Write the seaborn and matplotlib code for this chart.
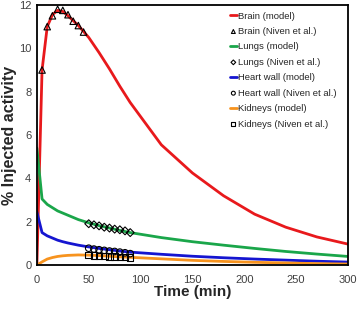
import numpy as np
import pandas as pd
import seaborn as sns
import matplotlib.pyplot as plt

# model time grid (min)
t_model = [0, 5, 10, 15, 20, 25, 30, 40, 50, 60, 70, 80, 90, 120, 150, 180, 210, 240, 270, 300]
brain_model = [0.0, 9.0, 11.0, 11.55, 11.75, 11.7, 11.5, 11.05, 10.5, 9.8, 9.05, 8.25, 7.5, 5.55, 4.25, 3.2, 2.35, 1.75, 1.3, 0.97]
lungs_model = [5.4, 3.05, 2.8, 2.65, 2.5, 2.4, 2.3, 2.1, 1.95, 1.82, 1.71, 1.6, 1.5, 1.27, 1.08, 0.92, 0.77, 0.63, 0.51, 0.4]
heart_model = [2.45, 1.5, 1.35, 1.25, 1.15, 1.08, 1.02, 0.92, 0.84, 0.77, 0.71, 0.65, 0.6, 0.5, 0.41, 0.34, 0.28, 0.23, 0.18, 0.14]
kidney_model = [0.0, 0.15, 0.28, 0.35, 0.4, 0.43, 0.45, 0.47, 0.46, 0.44, 0.41, 0.38, 0.36, 0.29, 0.22, 0.17, 0.13, 0.1, 0.07, 0.05]

# measured data (Niven et al.)
t_brain = [5, 10, 15, 20, 25, 30, 35, 40, 45]
brain_data = [9.0, 11.0, 11.5, 11.8, 11.75, 11.55, 11.25, 11.05, 10.75]
t_organ = [50, 55, 60, 65, 70, 75, 80, 85, 90]
lungs_data = [1.91, 1.86, 1.81, 1.75, 1.71, 1.66, 1.63, 1.58, 1.5]
heart_data = [0.78, 0.74, 0.71, 0.68, 0.65, 0.63, 0.6, 0.57, 0.53]
kidney_data = [0.47, 0.45, 0.43, 0.41, 0.4, 0.39, 0.38, 0.37, 0.36]

sns.set_theme(style="white")
plt.rcParams['font.family'] = ['Liberation Sans', 'DejaVu Sans']

f, ax = plt.subplots(figsize=(3.58, 3.09), dpi=100)
f.subplots_adjust(left=0.103, right=0.972, top=0.984, bottom=0.142)

series = [
    ("Brain", brain_model, t_brain, brain_data, "#e8191c", "^"),
    ("Lungs", lungs_model, t_organ, lungs_data, "#1aa64a", "D"),
    ("Heart wall", heart_model, t_organ, heart_data, "#1515d0", "o"),
    ("Kidneys", kidney_model, t_organ, kidney_data, "#f7931e", "s"),
]

for name, model, td, data, col, mk in series:
    sns.lineplot(x=t_model, y=model, color=col, linewidth=2, ax=ax,
                 label=f"{name} (model)")
    ms = 16 if mk == "D" else 22
    sns.scatterplot(x=td, y=data, marker=mk, s=ms, facecolor="none",
                    edgecolor="black", linewidth=0.8, ax=ax,
                    label=f"{name} (Niven et al.)", zorder=3)

ax.set_xlim(0, 300)
ax.set_ylim(0, 12)
ax.set_xticks(range(0, 301, 50))
ax.set_yticks(range(0, 13, 2))
ax.tick_params(axis="x", labelsize=8, colors="#404040", length=0, pad=7)
ax.tick_params(axis="y", labelsize=8, colors="#404040", length=0, pad=4)
ax.set_xlabel("Time (min)", fontsize=11, fontweight="bold", labelpad=0)
ax.set_ylabel("% Injected activity", fontsize=11.5, fontweight="bold", labelpad=1)
for sp in ax.spines.values():
    sp.set_color("black")
    sp.set_linewidth(1.3)

leg = ax.legend(loc="upper right", bbox_to_anchor=(0.985, 1.0), frameon=False,
                fontsize=6.8, handlelength=0.7, handletextpad=0.15,
                labelspacing=0.68, borderaxespad=0.3, markerscale=0.6)

plt.savefig("out.png", dpi=100)
